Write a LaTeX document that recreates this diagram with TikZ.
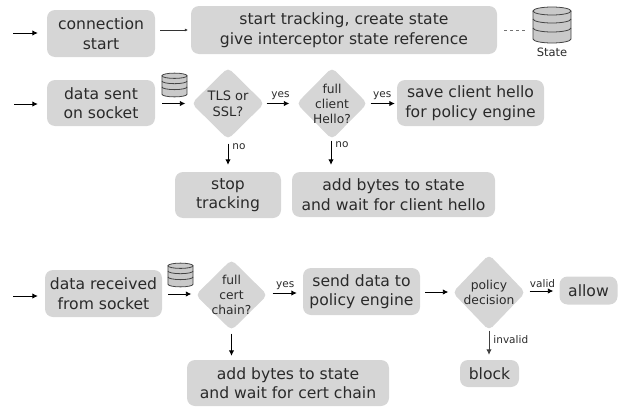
\documentclass[tikz,border=0pt]{standalone}
\usepackage{fontspec}
\setmainfont{DejaVu Sans}
\usetikzlibrary{arrows.meta,shapes.geometric}
\definecolor{boxgray}{HTML}{D6D6D6}
\definecolor{txtgray}{HTML}{2A2A2A}
\definecolor{dbfill}{HTML}{C9C9C9}
\definecolor{dbline}{HTML}{444444}
\tikzset{
  boxnode/.style={fill=boxgray, rounded corners=8pt, inner sep=0pt, align=center,
    text=txtgray, font=\fontsize{15.6}{19.5}\selectfont},
  decnode/.style={shape=diamond, fill=boxgray, rounded corners=5pt, inner sep=0pt},
  dectext/.style={align=center, text=txtgray, inner sep=0pt},
  arr/.style={-{Latex[length=5.5pt,width=5.5pt]}, line width=0.9pt, black},
  thinarr/.style={-{Latex[length=3pt,width=3pt]}, line width=0.5pt, black!80},
  lbl/.style={text=txtgray, font=\fontsize{10.5}{12}\selectfont, inner sep=0pt},
  pics/dbicon/.style={code={
    \begin{scope}[y=1pt, line width=0.8pt, draw=dbline]
      \fill[dbfill] (-19,14) -- (-19,-14) arc[start angle=180,end angle=360,x radius=19,y radius=4]
        -- (19,14) arc[start angle=0,end angle=180,x radius=19,y radius=4] -- cycle;
      \draw[dbline] (-19,14) -- (-19,-14) arc[start angle=180,end angle=360,x radius=19,y radius=4] -- (19,14);
      \draw[dbline] (0,14) ellipse[x radius=19,y radius=4];
      \draw[dbline] (-19,6) arc[start angle=180,end angle=360,x radius=19,y radius=4];
      \draw[dbline] (-19,-3) arc[start angle=180,end angle=360,x radius=19,y radius=4];
    \end{scope}
  }}
}
\begin{document}
\begin{tikzpicture}[x=1pt,y=-1pt]
\useasboundingbox (0,0) rectangle (622,407);

% ---------- row 1 ----------
\coordinate (in1) at (13,33);
\node[boxnode, minimum width=108pt, minimum height=47pt] (cs) at (101,33.5) {connection\\start};
\node[boxnode, minimum width=306pt, minimum height=48pt] (st) at (344,30) {start tracking, create state\\give interceptor state reference};
\pic[line width=0.8pt] (dbbig) at (552,25) {dbicon};
\coordinate (dbw) at (533,30);
\node[lbl, font=\fontsize{11.5}{13}\selectfont] (statelbl) at (552,52) {State};

\draw[arr, shorten >=9pt] (in1) -- (cs.west |- in1);
\draw[thinarr, shorten <=5pt, shorten >=3pt] (cs.east |- st.west) -- (st.west);
\draw[dashed, black!55, line width=0.8pt, dash pattern=on 3pt off 3pt, shorten <=7pt, shorten >=7pt] (st.east) -- (dbw);

% ---------- row 2 ----------
\coordinate (in2) at (14,104);
\node[boxnode, minimum width=108pt, minimum height=46pt] (ds) at (101,103) {data sent\\on socket};
\pic[scale=0.66, line width=0.6pt] (db1) at (174.5,85) {dbicon};
\node[decnode, minimum width=73pt, minimum height=72pt] (tls) at (228,103.5) {};
\node[dectext, font=\fontsize{13}{16}\selectfont] (tlst) at (tls.center) {TLS or\\SSL?};
\node[decnode, minimum width=71pt, minimum height=72pt] (hello) at (332,103.5) {};
\node[dectext, font=\fontsize{12.3}{15}\selectfont] (hellot) at (hello.center) {full\\client\\Hello?};
\node[boxnode, minimum width=147pt, minimum height=46pt] (save) at (470.5,103) {save client hello\\for policy engine};
\node[boxnode, minimum width=106pt, minimum height=46pt] (stop) at (228,195) {stop\\tracking};
\node[boxnode, minimum width=203pt, minimum height=45pt] (addh) at (393.5,194.5) {add bytes to state\\and wait for client hello};

\draw[arr, shorten >=9pt] (in2) -- (ds.west |- in2);
\draw[arr, shorten <=7pt, shorten >=6pt] (ds.east |- tls.west) -- (tls.west);
\draw[arr, shorten <=2pt, shorten >=7pt] (tls.east) -- node[lbl, above=3pt] (y1) {yes} (hello.west);
\draw[arr, shorten <=3pt, shorten >=2pt] (hello.east) -- node[lbl, above=3pt] (y2) {yes} (save.west |- hello.east);
\draw[arr, shorten <=4pt, shorten >=7pt] (tls.south) -- (stop.north);
\node[lbl] (n1) at (239,147) {no};
\draw[arr, shorten <=1pt, shorten >=7pt] (hello.south -| 331,0) -- (addh.north -| 331,0);
\node[lbl] (n2) at (342,145) {no};

% ---------- row 3 ----------
\coordinate (in3) at (13,296);
\node[boxnode, minimum width=117pt, minimum height=47pt] (dr) at (103.5,293.5) {data received\\from socket};
\pic[scale=0.66, line width=0.6pt] (db2) at (180.5,275) {dbicon};
\node[decnode, minimum width=72pt, minimum height=71pt] (cert) at (231.5,295) {};
\node[dectext, font=\fontsize{12.3}{15}\selectfont] (certt) at (cert.center) {full\\cert\\chain?};
\node[boxnode, minimum width=117pt, minimum height=47pt] (send) at (361.5,291.5) {send data to\\policy engine};
\node[decnode, minimum width=73pt, minimum height=76pt] (pol) at (489,292.5) {};
\node[dectext, font=\fontsize{12.3}{14.5}\selectfont] (polt) at (pol.center) {policy\\decision};
\node[boxnode, minimum width=58pt, minimum height=28pt] (allow) at (588.5,290.5) {allow};
\node[boxnode, minimum width=59pt, minimum height=27pt] (block) at (489.5,373.5) {block};
\node[boxnode, minimum width=202pt, minimum height=46pt] (adc) at (288,383) {add bytes to state\\and wait for cert chain};

\draw[arr, shorten >=7pt] (in3) -- (dr.west |- in3);
\draw[arr, shorten <=6pt, shorten >=4pt] (dr.east |- 0,294) -- (cert.west |- 0,294);
\draw[arr, shorten <=5pt, shorten >=6pt] (cert.east |- 0,293) -- node[lbl, above=3pt] (y3) {yes} (send.west |- 0,293);
\draw[arr, shorten <=5pt, shorten >=4pt] (send.east |- 0,292) -- (pol.west |- 0,292);
\draw[arr, shorten <=4pt, shorten >=6pt] (pol.east |- 0,291) -- node[lbl, above=3pt] (v1) {valid} (allow.west |- 0,291);
\draw[arr, black!75, shorten <=0pt, shorten >=5pt] (pol.south) -- node[lbl, right=4pt, pos=0.3] (iv) {invalid} (block.north -| pol.south);
\draw[arr, shorten <=3pt, shorten >=4pt] (cert.south) -- (adc.north -| cert.south);
\end{tikzpicture}
\end{document}
